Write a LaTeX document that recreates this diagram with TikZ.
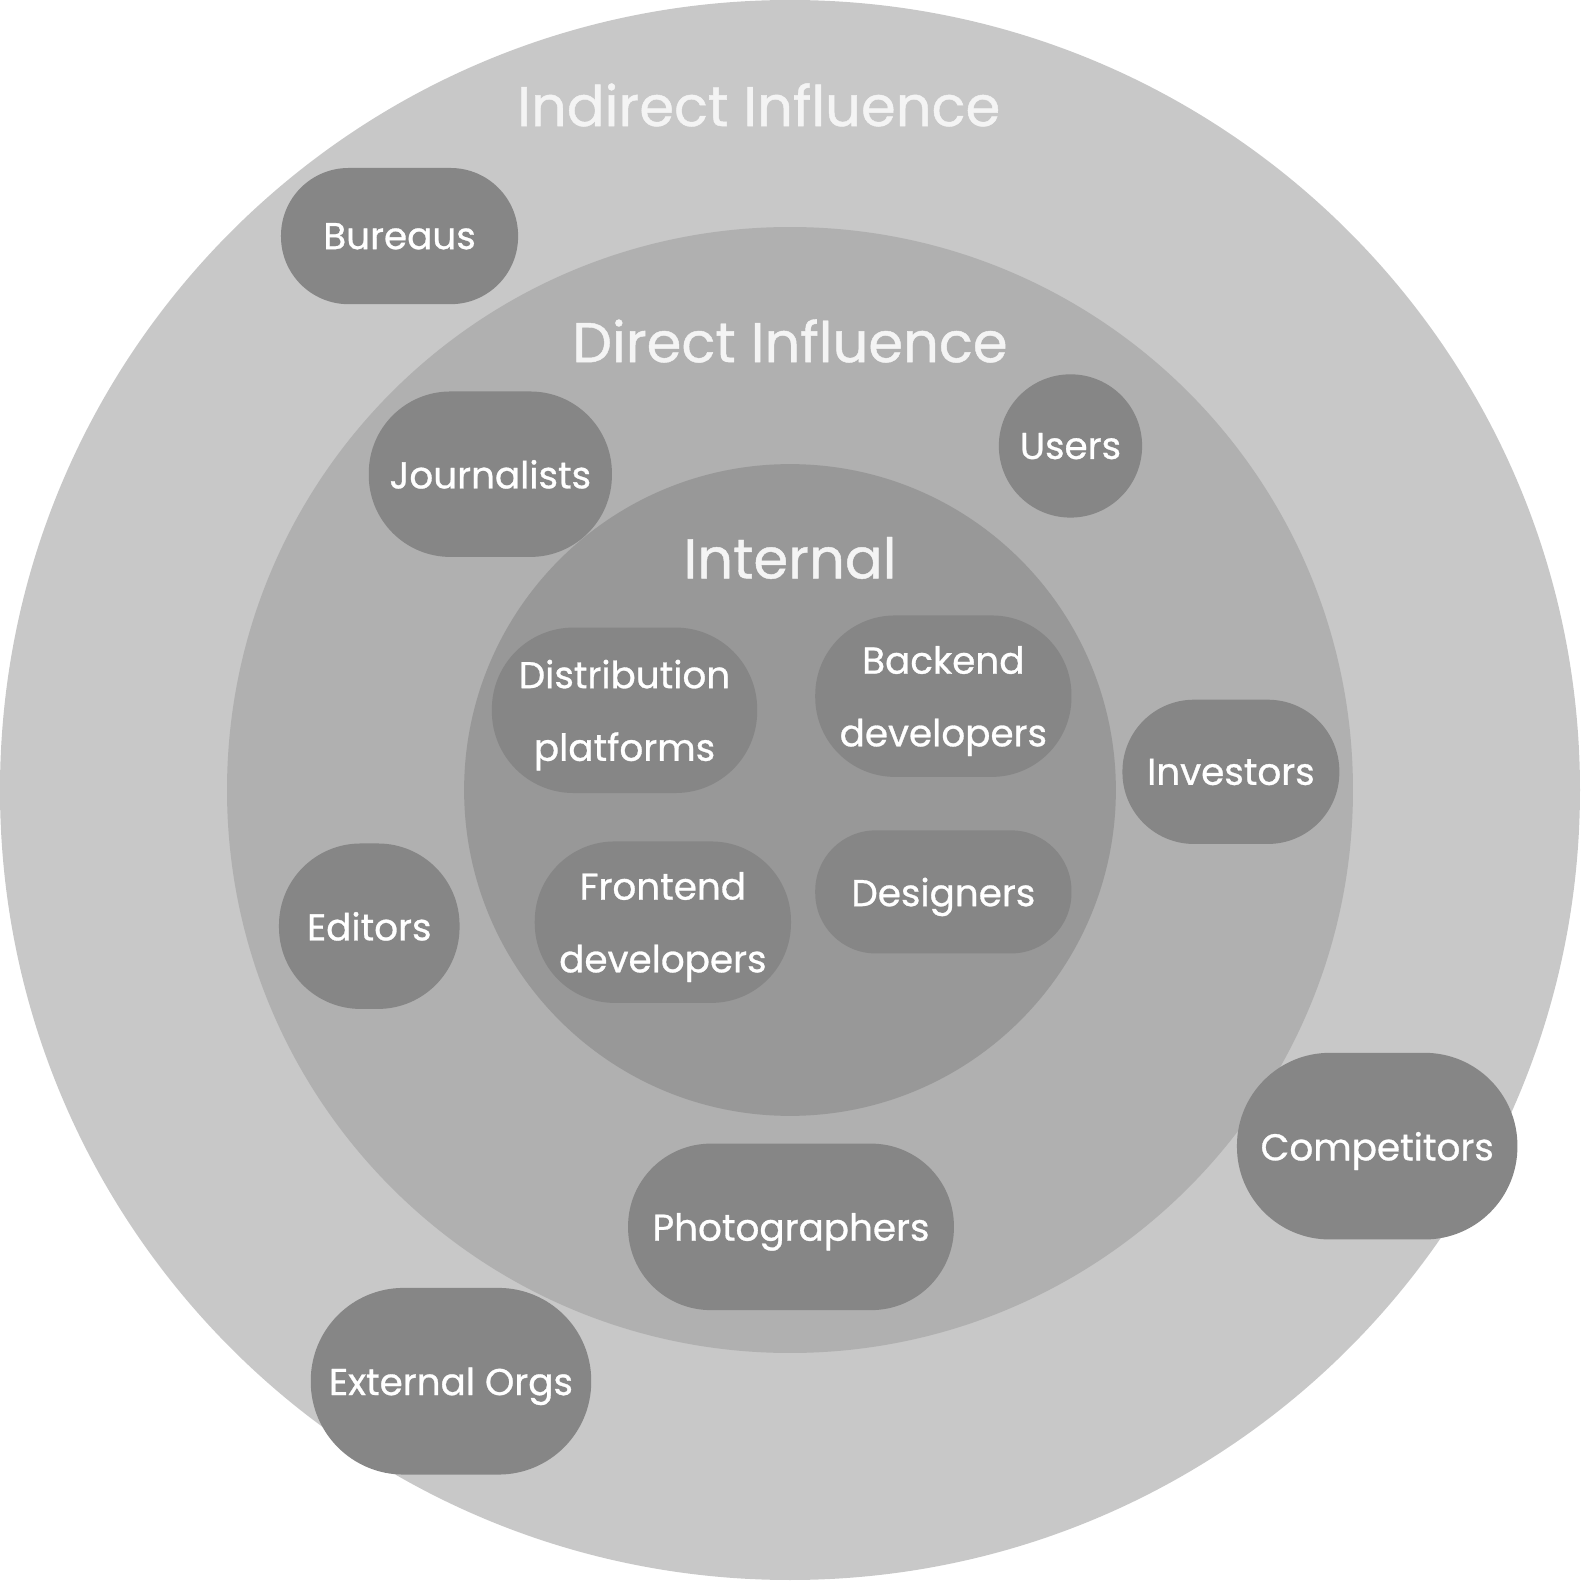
\documentclass[tikz,border=0pt]{standalone}
\usepackage{fontspec}
\setmainfont{Poppins}[FakeBold=0.8]
\definecolor{outerc}{HTML}{C8C8C8}
\definecolor{midc}{HTML}{B0B0B0}
\definecolor{innerc}{HTML}{989898}
\definecolor{pillc}{HTML}{868686}
\definecolor{titlec}{HTML}{F4F4F4}
\begin{document}
\begin{tikzpicture}[x=1pt,y=-1pt,
  ring/.style={circle,fill=#1,draw=none,inner sep=0pt},
  pill/.style={rectangle,fill=pillc,draw=none,inner sep=0pt,text=white,align=center,
     text depth=0pt,font=\fontsize{37}{72}\selectfont},
  title/.style={text=titlec,font=\fontsize{55.5}{72}\selectfont,inner sep=0pt}]
\useasboundingbox (0,0) rectangle (1568,1568);
\node[ring=outerc,minimum size=1566pt] (outer) at (783,783) {};
\node[ring=midc,minimum size=1116pt] (mid) at (783,783) {};
\node[ring=innerc,minimum size=646pt] (inner) at (783,783) {};
\node[title] (tind) at (752,104) {Indirect Influence};
\node[title] (tdir) at (783,338) {Direct Influence};
\node[title] (tint) at (783,553) {Internal};
% pills: center, width, height
\node[pill,minimum width=235pt,minimum height=135pt,rounded corners=67pt] (bureaus) at (396,234) {Bureaus};
\node[pill,minimum width=241pt,minimum height=164pt,rounded corners=81pt] (journ) at (486,470) {Journalists};
\node[pill,circle,minimum size=142pt] (users) at (1061,442) {Users};
\node[pill,minimum width=263pt,minimum height=164pt,rounded corners=81pt] (distr) at (619,704) {Distribution\\platforms};
\node[pill,minimum width=254pt,minimum height=160pt,rounded corners=79pt] (backend) at (935,690) {Backend\\developers};
\node[pill,minimum width=215pt,minimum height=143pt,rounded corners=71pt] (invest) at (1220,765) {Investors};
\node[pill,minimum width=179pt,minimum height=164pt,rounded corners=81pt] (editors) at (366,918) {Editors};
\node[pill,minimum width=254pt,minimum height=160pt,rounded corners=79pt] (frontend) at (657,914) {Frontend\\developers};
\node[pill,minimum width=254pt,minimum height=122pt,rounded corners=60pt] (design) at (935,884) {Designers};
\node[pill,minimum width=278pt,minimum height=185pt,rounded corners=92pt] (compet) at (1365,1136) {Competitors};
\node[pill,minimum width=323pt,minimum height=165pt,rounded corners=82pt] (photo) at (784,1216) {Photographers};
\node[pill,minimum width=278pt,minimum height=185pt,rounded corners=92pt] (extorg) at (447,1369) {External Orgs};
\end{tikzpicture}
\end{document}
